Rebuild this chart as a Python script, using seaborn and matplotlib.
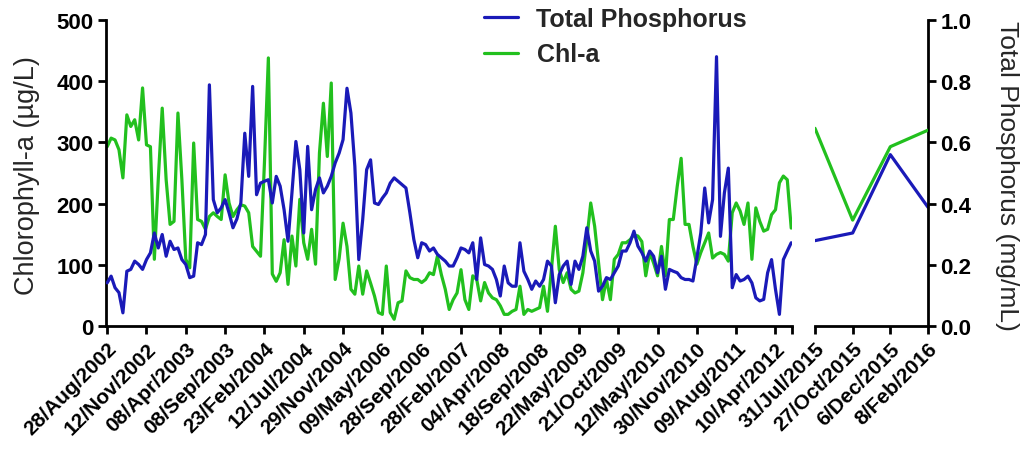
import matplotlib
matplotlib.use("Agg")
import matplotlib.pyplot as plt
import pandas as pd
import seaborn as sns

# Chlorophyll-a (µg/L) and total phosphorus (mg/mL), 2002-2012 sampling series
chl_a = [
    293, 307, 304, 288, 242, 345, 326, 337, 304, 389,
    296, 293, 109, 240, 356, 239, 166, 171, 348, 239,
    109, 95, 299, 174, 171, 158, 179, 185, 179, 174,
    247, 201, 179, 190, 198, 196, 185, 130, 122, 114,
    266, 438, 85, 73, 87, 141, 68, 147, 98, 207,
    136, 109, 158, 101, 283, 364, 277, 397, 76, 110,
    168, 130, 60, 52, 98, 52, 90, 70, 49, 22,
    19, 98, 22, 11, 38, 41, 90, 79, 76, 76,
    71, 76, 87, 84, 114, 84, 60, 27, 43, 54,
    92, 43, 27, 82, 76, 41, 71, 54, 46, 43,
    33, 19, 19, 24, 27, 65, 19, 27, 24, 27,
    30, 65, 24, 92, 163, 92, 71, 87, 60, 54,
    57, 87, 141, 201, 163, 103, 43, 76, 43, 109,
    117, 136, 136, 141, 149, 147, 138, 82, 120, 103,
    82, 130, 82, 174, 174, 228, 274, 166, 166, 130,
    101, 120, 136, 152, 111, 117, 120, 117, 106, 185,
    201, 188, 166, 201, 109, 193, 171, 155, 158, 182,
    190, 234, 245, 239, 160,
]
total_p = [
    0.141, 0.163, 0.125, 0.109, 0.043, 0.179, 0.185, 0.212, 0.201, 0.185,
    0.217, 0.239, 0.304, 0.255, 0.299, 0.228, 0.277, 0.250, 0.255, 0.217,
    0.201, 0.158, 0.163, 0.272, 0.266, 0.299, 0.788, 0.413, 0.370, 0.386,
    0.413, 0.370, 0.321, 0.350, 0.402, 0.630, 0.489, 0.783, 0.429, 0.467,
    0.473, 0.478, 0.402, 0.489, 0.457, 0.380, 0.277, 0.435, 0.603, 0.511,
    0.304, 0.587, 0.380, 0.446, 0.484, 0.435, 0.457, 0.489, 0.533, 0.565,
    0.609, 0.777, 0.696, 0.522, 0.217, 0.348, 0.511, 0.543, 0.402, 0.397,
    0.418, 0.435, 0.467, 0.484, 0.473, 0.462, 0.451, 0.370, 0.283, 0.223,
    0.272, 0.266, 0.245, 0.255, 0.234, 0.223, 0.212, 0.196, 0.196, 0.223,
    0.255, 0.250, 0.239, 0.272, 0.152, 0.288, 0.201, 0.196, 0.185, 0.152,
    0.098, 0.196, 0.141, 0.130, 0.130, 0.272, 0.179, 0.152, 0.120, 0.147,
    0.130, 0.152, 0.212, 0.196, 0.076, 0.168, 0.196, 0.212, 0.136, 0.212,
    0.185, 0.228, 0.321, 0.245, 0.212, 0.114, 0.130, 0.158, 0.152, 0.174,
    0.196, 0.245, 0.245, 0.272, 0.310, 0.261, 0.240, 0.212, 0.245, 0.228,
    0.174, 0.228, 0.120, 0.185, 0.179, 0.174, 0.158, 0.152, 0.152, 0.147,
    0.223, 0.304, 0.451, 0.337, 0.413, 0.880, 0.293, 0.435, 0.516, 0.125,
    0.168, 0.147, 0.152, 0.163, 0.141, 0.092, 0.082, 0.087, 0.174, 0.217,
    0.120, 0.038, 0.217, 0.245, 0.272,
]
tick_dates = [
    "28/Aug/2002", "12/Nov/2002", "08/Apr/2003", "08/Sep/2003", "23/Feb/2004",
    "12/Jul/2004", "29/Nov/2004", "09/May/2006", "28/Sep/2006", "28/Feb/2007",
    "04/Apr/2008", "18/Sep/2008", "22/May/2009", "21/Oct/2009", "12/May/2010",
    "30/Nov/2010", "09/Aug/2011", "10/Apr/2012",
]

# 2015-2016 campaign
dates_late = ["31/Jul/2015", "27/Oct/2015", "6/Dec/2015", "8/Feb/2016"]
chl_a_late = [323, 173, 293, 320]
total_p_late = [0.279, 0.304, 0.560, 0.388]

BLUE = "#1a1ab8"
GREEN = "#22c01e"
TICK_STEP = 10

early = pd.DataFrame({"sample": range(len(chl_a)), "chl": chl_a, "tp": total_p})
late = pd.DataFrame({"sample": range(len(dates_late)), "chl": chl_a_late, "tp": total_p_late})

sns.set_theme(style="ticks")
plt.rcParams["font.family"] = ["Liberation Sans", "DejaVu Sans"]
plt.rcParams["axes.linewidth"] = 2.0

W, H = 1021, 456
fig = plt.figure(figsize=(W / 100, H / 100), dpi=100)


def box(x0, y0, x1, y1):
    return [x0 / W, 1 - y1 / H, (x1 - x0) / W, (y1 - y0) / H]


ax_main = fig.add_axes(box(106, 21, 792, 327))
ax_main_tp = ax_main.twinx()
ax_late = fig.add_axes(box(815, 21, 928, 327))
ax_late_chl = ax_late.twinx()

lw = 2.3
sns.lineplot(data=early, x="sample", y="chl", ax=ax_main, color=GREEN, lw=lw)
sns.lineplot(data=early, x="sample", y="tp", ax=ax_main_tp, color=BLUE, lw=lw)
sns.lineplot(data=late, x="sample", y="chl", ax=ax_late_chl, color=GREEN, lw=lw)
sns.lineplot(data=late, x="sample", y="tp", ax=ax_late, color=BLUE, lw=lw)

n = len(chl_a)
x_right = n - 0.8
ax_main.set_xlim(-0.3, x_right)
ax_main.set_ylim(0, 500)
ax_main_tp.set_ylim(0, 1.0)
ax_late.set_xlim(0, len(dates_late) - 1)
ax_late.set_ylim(0, 1.0)
ax_late_chl.set_ylim(0, 500)

xtick_font = dict(fontsize=15, fontweight="bold")
ytick_font = dict(fontsize=16, fontweight="bold")

# main segment: left axis (Chl-a) and dated ticks
ticks = list(range(0, TICK_STEP * len(tick_dates), TICK_STEP))
ax_main.set_xticks(ticks + [x_right])
ax_main.set_xticklabels(tick_dates + [""], rotation=45, ha="right",
                        rotation_mode="anchor", **xtick_font)
ax_main.set_yticks(range(0, 501, 100))
ax_main.set_yticklabels([str(v) for v in range(0, 501, 100)], **ytick_font)
for s in ("top", "right"):
    ax_main.spines[s].set_visible(False)
for s in ax_main_tp.spines.values():
    s.set_visible(False)
ax_main_tp.set_yticks([])
ax_main_tp.set_ylabel("")

# late segment: right axis (TP)
ax_late.set_xticks(range(len(dates_late)))
ax_late.set_xticklabels(dates_late, rotation=45, ha="right",
                        rotation_mode="anchor", **xtick_font)
ax_late.yaxis.tick_right()
tp_ticks = [0.0, 0.2, 0.4, 0.6, 0.8, 1.0]
ax_late.set_yticks(tp_ticks)
ax_late.set_yticklabels([f"{v:.1f}" for v in tp_ticks], **ytick_font)
for s in ("top", "left"):
    ax_late.spines[s].set_visible(False)
for s in ax_late_chl.spines.values():
    s.set_visible(False)
ax_late_chl.set_yticks([])
ax_late_chl.set_ylabel("")

for ax in (ax_main, ax_late):
    ax.set_xlabel("")
    ax.set_ylabel("")
    ax.tick_params(axis="both", length=6, width=2, color="black",
                   labelcolor="black", pad=3)
    for s in ax.spines.values():
        s.set_color("black")
        s.set_linewidth(2)
    ax.set_facecolor("none")
for ax in (ax_main_tp, ax_late_chl):
    ax.set_xlabel("")
    ax.set_facecolor("none")

fig.text(27 / W, 1 - 176 / H, "Chlorophyll-a (µg/L)", rotation=90,
         ha="center", va="center", fontsize=19.5)
fig.text(1007 / W, 1 - 176 / H, "Total Phosphorus (mg/mL)", rotation=270,
         ha="center", va="center", fontsize=19)

h_tp = plt.Line2D([], [], color=BLUE, lw=lw)
h_chl = plt.Line2D([], [], color=GREEN, lw=lw)
fig.legend([h_tp, h_chl], ["Total Phosphorus", "Chl-a"],
           loc="upper left", bbox_to_anchor=(484 / W, 1 - 8 / H),
           frameon=False, prop=dict(size=18, weight="bold"),
           handlelength=1.35, handletextpad=0.75, labelspacing=0.45,
           borderpad=0, borderaxespad=0)

fig.savefig("out.png", dpi=100, facecolor="white")
